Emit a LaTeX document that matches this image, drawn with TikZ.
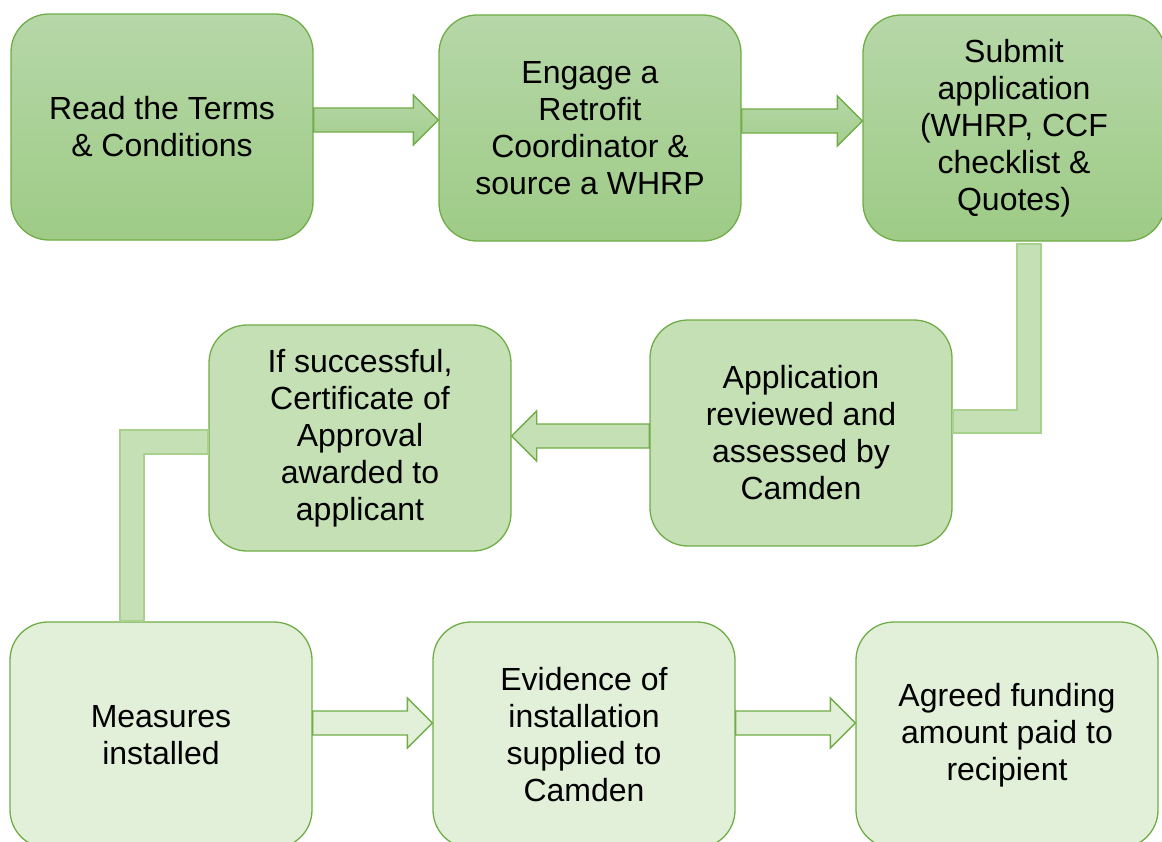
\documentclass[tikz,border=0pt]{standalone}
\usepackage{fontspec}
\setmainfont{Liberation Sans}
\usetikzlibrary{calc}

\definecolor{stepedge}{HTML}{70AD47}
\definecolor{toptop}{HTML}{B6D7A8}
\definecolor{topbot}{HTML}{9ECB86}
\definecolor{midfill}{HTML}{C5E0B4}
\definecolor{lowfill}{HTML}{E2F0D9}
\definecolor{elbowedge}{HTML}{A9D18E}

\tikzset{
  stepbox/.style={draw=stepedge, line width=1.3pt, rounded corners=38pt,
    minimum width=302pt, minimum height=226pt, inner sep=0pt, align=center,
    font=\fontsize{32}{37}\selectfont},
  toprow/.style={stepbox, top color=toptop, bottom color=topbot},
  midrow/.style={stepbox, fill=midfill},
  lowrow/.style={stepbox, fill=lowfill},
  blockarrow/.style={draw=stepedge, line width=1.3pt, line join=miter},
  elbow/.style={draw=elbowedge, fill=midfill, line width=2pt},
}

% fat arrow: start anchor, tip anchor, vertical shift, direction (1 right, -1 left)
\newcommand{\fatarrow}[5][blockarrow]{%
  \path[#1] ($(#2)+(0,{#4-12})$) -- ($(#3 |- #2)+({-25*(#5)},{#4-12})$)
    -- ($(#3 |- #2)+({-25*(#5)},{#4-25})$) -- ($(#3 |- #2)+(0,#4)$)
    -- ($(#3 |- #2)+({-25*(#5)},{#4+25})$) -- ($(#3 |- #2)+({-25*(#5)},{#4+12})$)
    -- ($(#2)+(0,{#4+12})$) -- cycle;}

\begin{document}
\begin{tikzpicture}[x=1pt, y=-1pt]

    \useasboundingbox (0,0) rectangle (1162,841);

    % first row
    \node [toprow] (read) at (162,127) {Read the Terms\\\& Conditions};
    \node [toprow] (engage) at (590,128) {Engage a\\Retrofit\\Coordinator \&\\source a WHRP};
    \node [toprow] (submit) at (1014,128) {Submit\\application\\(WHRP, CCF\\checklist \&\\Quotes)};

    % second row
    \node [midrow] (review) at (801,433) {Application\\reviewed and\\assessed by\\Camden};
    \node [midrow] (approval) at (360,438) {If successful,\\Certificate of\\Approval\\awarded to\\applicant};

    % third row
    \node [lowrow] (measures) at (161,735) {Measures\\installed};
    \node [lowrow] (evidence) at (584,735) {Evidence of\\installation\\supplied to\\Camden};
    \node [lowrow] (funding) at (1007,735) {Agreed funding\\amount paid to\\recipient};

    % arrows
    \fatarrow[blockarrow, top color=toptop, bottom color=topbot!80!toptop]{read.east}{engage.west}{-7}{1}
    \fatarrow[blockarrow, top color=toptop, bottom color=topbot!80!toptop]{engage.east}{submit.west}{-7}{1}
    \fatarrow[blockarrow, fill=midfill]{review.west}{approval.east}{3}{-1}
    \fatarrow[blockarrow, fill=lowfill]{measures.east}{evidence.west}{-12}{1}
    \fatarrow[blockarrow, fill=lowfill]{evidence.east}{funding.west}{-12}{1}

    % elbow bands
    \coordinate (sr) at ($(submit.south)+(15,2)$);
    \path [elbow] ($(review.east)+(0,-23)$) -- ($(sr |- review.east)+(-12,-23)$)
      -- ($(sr)+(-12,0)$) -- ($(sr)+(12,0)$) -- ($(sr |- review.east)+(12,0)$)
      -- (review.east) -- cycle;

    \coordinate (am) at ($(measures.north)+(-29,0)$);
    \path [elbow] ($(approval.west)+(0,-8)$) -- ($(am |- approval.west)+(-12,-8)$)
      -- ($(am)+(-12,0)$) -- ($(am)+(12,0)$) -- ($(am |- approval.west)+(12,16)$)
      -- ($(approval.west)+(0,16)$) -- cycle;

\end{tikzpicture}
\end{document}
